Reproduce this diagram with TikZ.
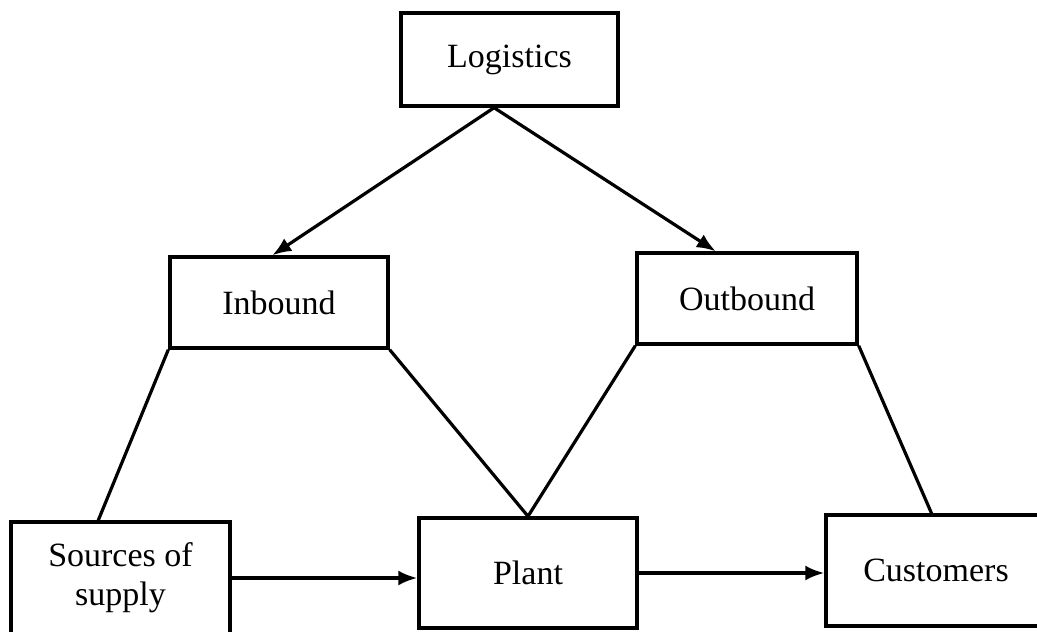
\documentclass[tikz,border=0pt]{standalone}
\usepackage{fontspec}
\setmainfont{Liberation Serif}
\usetikzlibrary{arrows.meta,calc}
\begin{document}
\begin{tikzpicture}[x=1pt,y=-1pt,
  box/.style={draw, line width=3.4pt, rectangle, inner sep=0pt, align=center,
    font=\fontsize{34}{39}\selectfont},
  link/.style={line width=3.2pt},
  arr/.style={line width=3.2pt, -{Latex[length=19pt,width=15pt]}}]
\fill[white] (0,0) rectangle (1037,632);
\useasboundingbox (0,0) rectangle (1037,632);

% boxes
\node[box, minimum width=217pt, minimum height=93pt] (log) at (509.5,59.5) {Logistics};
\node[box, minimum width=218pt, minimum height=91pt] (inb) at (279,302.5) {Inbound};
\node[box, minimum width=220pt, minimum height=91pt] (outb) at (747,298.5) {Outbound};
\node[box, minimum width=219pt, minimum height=112pt] (src) at (120.5,578) {Sources of\\supply};
\node[box, minimum width=218pt, minimum height=110pt] (plant) at (528,573) {Plant};
\node[box, minimum width=220pt, minimum height=111pt] (cust) at (936,570.5) {Customers};

% attachment points
\coordinate (logfoot) at ($(log.south west)!0.43!(log.south east)$);
\coordinate (inbtop) at ($(inb.north west)!0.47!(inb.north east)$);
\coordinate (outtop) at ($(outb.north west)!0.36!(outb.north east)$);
\coordinate (srctop) at ($(src.north west)!0.40!(src.north east)$);
\coordinate (custtop) at ($(cust.north west)!0.48!(cust.north east)$);

% logistics splits into inbound and outbound
\draw[arr] (logfoot) -- (inbtop);
\draw[arr] (logfoot) -- (outtop);

% inbound and outbound spans
\draw[link] (inb.south west) -- (srctop);
\draw[link] (inb.south east) -- (plant.north);
\draw[link] (outb.south west) -- (plant.north);
\draw[link] (outb.south east) -- (custtop);

% material flow
\draw[arr] (src.east) -- (src.east -| plant.west);
\draw[arr] (plant.east) -- (plant.east -| cust.west);
\end{tikzpicture}
\end{document}
